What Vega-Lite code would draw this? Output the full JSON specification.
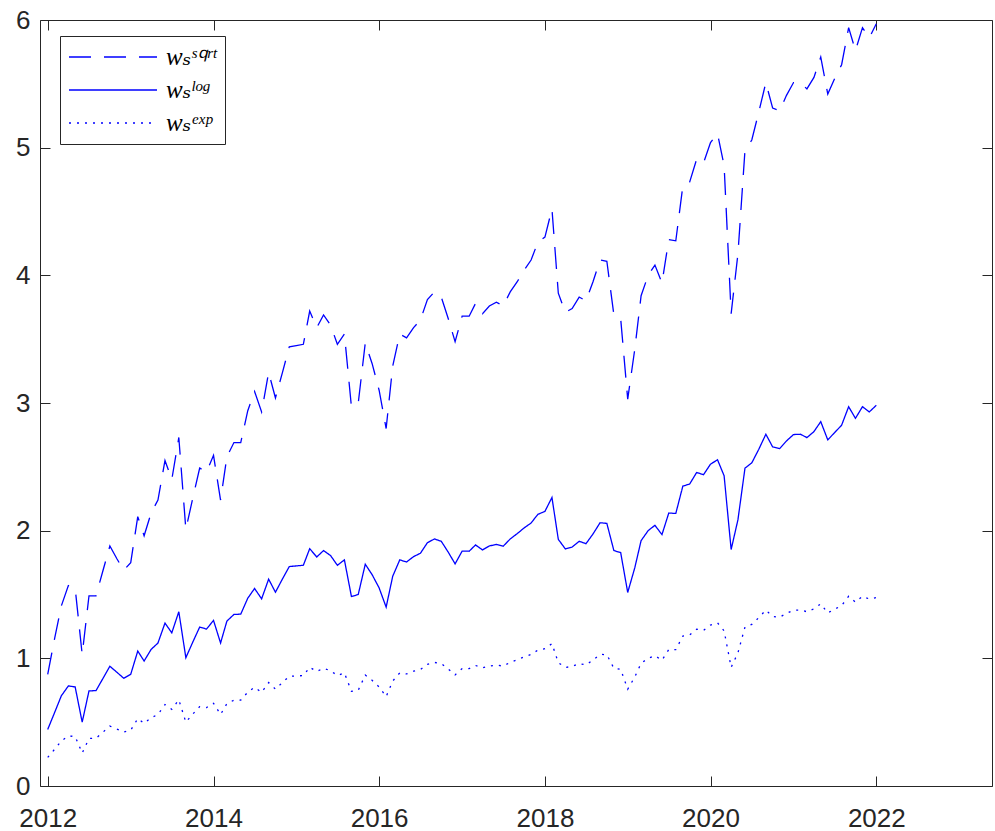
{
  "$schema": "https://vega.github.io/schema/vega-lite/v6.json",
  "width": 952,
  "height": 766,
  "autosize": "none",
  "padding": {"left": 40, "top": 20, "right": 3, "bottom": 45},
  "background": "white",
  "config": {
    "view": {"stroke": null},
    "axis": {
      "domainColor": "#262626",
      "tickColor": "#262626",
      "labelColor": "#262626",
      "labelFont": "Liberation Sans",
      "labelFontSize": 26,
      "grid": false,
      "domainWidth": 1,
      "tickWidth": 1
    }
  },
  "data": {
    "values": [
      {"date": "2012-01-01", "sqrt": 0.875, "log": 0.443, "exp": 0.224},
      {"date": "2012-02-01", "sqrt": 1.16, "log": 0.578, "exp": 0.289},
      {"date": "2012-03-01", "sqrt": 1.41, "log": 0.706, "exp": 0.353},
      {"date": "2012-04-01", "sqrt": 1.57, "log": 0.784, "exp": 0.392},
      {"date": "2012-05-01", "sqrt": 1.55, "log": 0.776, "exp": 0.388},
      {"date": "2012-06-01", "sqrt": 1.03, "log": 0.5, "exp": 0.258},
      {"date": "2012-07-01", "sqrt": 1.49, "log": 0.745, "exp": 0.372},
      {"date": "2012-08-01", "sqrt": 1.49, "log": 0.747, "exp": 0.374},
      {"date": "2012-09-01", "sqrt": 1.69, "log": 0.844, "exp": 0.422},
      {"date": "2012-10-01", "sqrt": 1.88, "log": 0.938, "exp": 0.469},
      {"date": "2012-11-01", "sqrt": 1.78, "log": 0.891, "exp": 0.446},
      {"date": "2012-12-01", "sqrt": 1.69, "log": 0.844, "exp": 0.422},
      {"date": "2013-01-01", "sqrt": 1.75, "log": 0.875, "exp": 0.437},
      {"date": "2013-02-01", "sqrt": 2.11, "log": 1.057, "exp": 0.528},
      {"date": "2013-03-01", "sqrt": 1.96, "log": 0.979, "exp": 0.49},
      {"date": "2013-04-01", "sqrt": 2.14, "log": 1.07, "exp": 0.535},
      {"date": "2013-05-01", "sqrt": 2.24, "log": 1.12, "exp": 0.56},
      {"date": "2013-06-01", "sqrt": 2.55, "log": 1.276, "exp": 0.638},
      {"date": "2013-07-01", "sqrt": 2.4, "log": 1.2, "exp": 0.6},
      {"date": "2013-08-01", "sqrt": 2.73, "log": 1.365, "exp": 0.675},
      {"date": "2013-09-01", "sqrt": 2.01, "log": 1.005, "exp": 0.5},
      {"date": "2013-10-01", "sqrt": 2.25, "log": 1.125, "exp": 0.562},
      {"date": "2013-11-01", "sqrt": 2.49, "log": 1.245, "exp": 0.622},
      {"date": "2013-12-01", "sqrt": 2.46, "log": 1.229, "exp": 0.614},
      {"date": "2014-01-01", "sqrt": 2.59, "log": 1.297, "exp": 0.648},
      {"date": "2014-02-01", "sqrt": 2.24, "log": 1.12, "exp": 0.56},
      {"date": "2014-03-01", "sqrt": 2.58, "log": 1.292, "exp": 0.646},
      {"date": "2014-04-01", "sqrt": 2.69, "log": 1.344, "exp": 0.672},
      {"date": "2014-05-01", "sqrt": 2.69, "log": 1.346, "exp": 0.673},
      {"date": "2014-06-01", "sqrt": 2.94, "log": 1.471, "exp": 0.735},
      {"date": "2014-07-01", "sqrt": 3.09, "log": 1.547, "exp": 0.773},
      {"date": "2014-08-01", "sqrt": 2.93, "log": 1.466, "exp": 0.733},
      {"date": "2014-09-01", "sqrt": 3.24, "log": 1.62, "exp": 0.81},
      {"date": "2014-10-01", "sqrt": 3.04, "log": 1.518, "exp": 0.759},
      {"date": "2014-11-01", "sqrt": 3.24, "log": 1.622, "exp": 0.811},
      {"date": "2014-12-01", "sqrt": 3.44, "log": 1.719, "exp": 0.86},
      {"date": "2015-01-01", "sqrt": 3.45, "log": 1.724, "exp": 0.862},
      {"date": "2015-02-01", "sqrt": 3.46, "log": 1.729, "exp": 0.865},
      {"date": "2015-03-01", "sqrt": 3.72, "log": 1.859, "exp": 0.93},
      {"date": "2015-04-01", "sqrt": 3.59, "log": 1.794, "exp": 0.897},
      {"date": "2015-05-01", "sqrt": 3.69, "log": 1.844, "exp": 0.922},
      {"date": "2015-06-01", "sqrt": 3.61, "log": 1.805, "exp": 0.903},
      {"date": "2015-07-01", "sqrt": 3.46, "log": 1.729, "exp": 0.865},
      {"date": "2015-08-01", "sqrt": 3.54, "log": 1.771, "exp": 0.886},
      {"date": "2015-09-01", "sqrt": 2.97, "log": 1.484, "exp": 0.742},
      {"date": "2015-10-01", "sqrt": 3.0, "log": 1.5, "exp": 0.75},
      {"date": "2015-11-01", "sqrt": 3.47, "log": 1.737, "exp": 0.869},
      {"date": "2015-12-01", "sqrt": 3.31, "log": 1.656, "exp": 0.828},
      {"date": "2016-01-01", "sqrt": 3.1, "log": 1.552, "exp": 0.776},
      {"date": "2016-02-01", "sqrt": 2.8, "log": 1.401, "exp": 0.7},
      {"date": "2016-03-01", "sqrt": 3.29, "log": 1.643, "exp": 0.822},
      {"date": "2016-04-01", "sqrt": 3.54, "log": 1.771, "exp": 0.886},
      {"date": "2016-05-01", "sqrt": 3.51, "log": 1.755, "exp": 0.878},
      {"date": "2016-06-01", "sqrt": 3.59, "log": 1.797, "exp": 0.899},
      {"date": "2016-07-01", "sqrt": 3.65, "log": 1.823, "exp": 0.912},
      {"date": "2016-08-01", "sqrt": 3.81, "log": 1.906, "exp": 0.953},
      {"date": "2016-09-01", "sqrt": 3.87, "log": 1.935, "exp": 0.968},
      {"date": "2016-10-01", "sqrt": 3.83, "log": 1.917, "exp": 0.959},
      {"date": "2016-11-01", "sqrt": 3.66, "log": 1.831, "exp": 0.916},
      {"date": "2016-12-01", "sqrt": 3.48, "log": 1.74, "exp": 0.87},
      {"date": "2017-01-01", "sqrt": 3.68, "log": 1.84, "exp": 0.92},
      {"date": "2017-02-01", "sqrt": 3.68, "log": 1.839, "exp": 0.92},
      {"date": "2017-03-01", "sqrt": 3.78, "log": 1.888, "exp": 0.944},
      {"date": "2017-04-01", "sqrt": 3.7, "log": 1.849, "exp": 0.925},
      {"date": "2017-05-01", "sqrt": 3.76, "log": 1.88, "exp": 0.94},
      {"date": "2017-06-01", "sqrt": 3.79, "log": 1.893, "exp": 0.947},
      {"date": "2017-07-01", "sqrt": 3.76, "log": 1.878, "exp": 0.939},
      {"date": "2017-08-01", "sqrt": 3.87, "log": 1.935, "exp": 0.968},
      {"date": "2017-09-01", "sqrt": 3.95, "log": 1.977, "exp": 0.989},
      {"date": "2017-10-01", "sqrt": 4.04, "log": 2.021, "exp": 1.011},
      {"date": "2017-11-01", "sqrt": 4.12, "log": 2.06, "exp": 1.03},
      {"date": "2017-12-01", "sqrt": 4.26, "log": 2.128, "exp": 1.064},
      {"date": "2018-01-01", "sqrt": 4.3, "log": 2.151, "exp": 1.076},
      {"date": "2018-02-01", "sqrt": 4.52, "log": 2.26, "exp": 1.115},
      {"date": "2018-03-01", "sqrt": 3.86, "log": 1.932, "exp": 0.966},
      {"date": "2018-04-01", "sqrt": 3.71, "log": 1.857, "exp": 0.929},
      {"date": "2018-05-01", "sqrt": 3.74, "log": 1.872, "exp": 0.936},
      {"date": "2018-06-01", "sqrt": 3.83, "log": 1.917, "exp": 0.959},
      {"date": "2018-07-01", "sqrt": 3.8, "log": 1.898, "exp": 0.949},
      {"date": "2018-08-01", "sqrt": 3.95, "log": 1.974, "exp": 0.987},
      {"date": "2018-09-01", "sqrt": 4.12, "log": 2.062, "exp": 1.031},
      {"date": "2018-10-01", "sqrt": 4.11, "log": 2.057, "exp": 1.029},
      {"date": "2018-11-01", "sqrt": 3.69, "log": 1.844, "exp": 0.922},
      {"date": "2018-12-01", "sqrt": 3.66, "log": 1.828, "exp": 0.914},
      {"date": "2019-01-01", "sqrt": 3.03, "log": 1.516, "exp": 0.758},
      {"date": "2019-02-01", "sqrt": 3.42, "log": 1.708, "exp": 0.854},
      {"date": "2019-03-01", "sqrt": 3.84, "log": 1.922, "exp": 0.961},
      {"date": "2019-04-01", "sqrt": 4.0, "log": 2.0, "exp": 1.0},
      {"date": "2019-05-01", "sqrt": 4.08, "log": 2.042, "exp": 1.021},
      {"date": "2019-06-01", "sqrt": 3.94, "log": 1.969, "exp": 0.985},
      {"date": "2019-07-01", "sqrt": 4.28, "log": 2.138, "exp": 1.069},
      {"date": "2019-08-01", "sqrt": 4.27, "log": 2.135, "exp": 1.068},
      {"date": "2019-09-01", "sqrt": 4.7, "log": 2.349, "exp": 1.175},
      {"date": "2019-10-01", "sqrt": 4.73, "log": 2.365, "exp": 1.183},
      {"date": "2019-11-01", "sqrt": 4.91, "log": 2.456, "exp": 1.228},
      {"date": "2019-12-01", "sqrt": 4.88, "log": 2.438, "exp": 1.219},
      {"date": "2020-01-01", "sqrt": 5.04, "log": 2.521, "exp": 1.261},
      {"date": "2020-02-01", "sqrt": 5.11, "log": 2.555, "exp": 1.278},
      {"date": "2020-03-01", "sqrt": 4.86, "log": 2.43, "exp": 1.215},
      {"date": "2020-04-01", "sqrt": 3.7, "log": 1.852, "exp": 0.93},
      {"date": "2020-05-01", "sqrt": 4.17, "log": 2.086, "exp": 1.043},
      {"date": "2020-06-01", "sqrt": 4.98, "log": 2.49, "exp": 1.245},
      {"date": "2020-07-01", "sqrt": 5.06, "log": 2.531, "exp": 1.266},
      {"date": "2020-08-01", "sqrt": 5.28, "log": 2.638, "exp": 1.319},
      {"date": "2020-09-01", "sqrt": 5.51, "log": 2.755, "exp": 1.378},
      {"date": "2020-10-01", "sqrt": 5.31, "log": 2.656, "exp": 1.328},
      {"date": "2020-11-01", "sqrt": 5.29, "log": 2.643, "exp": 1.322},
      {"date": "2020-12-01", "sqrt": 5.41, "log": 2.703, "exp": 1.352},
      {"date": "2021-01-01", "sqrt": 5.51, "log": 2.753, "exp": 1.377},
      {"date": "2021-02-01", "sqrt": 5.51, "log": 2.755, "exp": 1.378},
      {"date": "2021-03-01", "sqrt": 5.46, "log": 2.729, "exp": 1.365},
      {"date": "2021-04-01", "sqrt": 5.55, "log": 2.776, "exp": 1.388},
      {"date": "2021-05-01", "sqrt": 5.71, "log": 2.854, "exp": 1.427},
      {"date": "2021-06-01", "sqrt": 5.42, "log": 2.711, "exp": 1.356},
      {"date": "2021-07-01", "sqrt": 5.54, "log": 2.768, "exp": 1.384},
      {"date": "2021-08-01", "sqrt": 5.65, "log": 2.826, "exp": 1.413},
      {"date": "2021-09-01", "sqrt": 5.94, "log": 2.971, "exp": 1.486},
      {"date": "2021-10-01", "sqrt": 5.76, "log": 2.88, "exp": 1.44},
      {"date": "2021-11-01", "sqrt": 5.94, "log": 2.971, "exp": 1.486},
      {"date": "2021-12-01", "sqrt": 5.86, "log": 2.93, "exp": 1.465},
      {"date": "2022-01-01", "sqrt": 5.97, "log": 2.982, "exp": 1.476}
    ]
  },
  "transform": [{"fold": ["sqrt", "log", "exp"], "as": ["series", "value"]}],
  "resolve": {"axis": {"x": "independent", "y": "independent"}},
  "layer": [
    {
      "mark": {"type": "line", "color": "#0000ff", "strokeWidth": 1.3, "strokeCap": "butt"},
      "encoding": {
        "x": {
          "field": "date",
          "type": "temporal",
          "scale": {
            "type": "utc",
            "domain": [
              {"year": 2011, "month": 11, "date": 28, "utc": true},
              {"year": 2023, "month": 5, "date": 26, "utc": true}
            ]
          },
          "axis": {
            "orient": "bottom",
            "title": null,
            "format": "%Y",
            "ticks": false,
            "values": [
              {"year": 2012, "utc": true},
              {"year": 2014, "utc": true},
              {"year": 2016, "utc": true},
              {"year": 2018, "utc": true},
              {"year": 2020, "utc": true},
              {"year": 2022, "utc": true}
            ],
            "labelFlush": false,
            "labelOverlap": false,
            "labelPadding": 19
          }
        },
        "y": {
          "field": "value",
          "type": "quantitative",
          "scale": {"domain": [0, 6], "nice": false, "zero": true},
          "axis": {
            "orient": "left",
            "title": null,
            "ticks": false,
            "values": [0, 1, 2, 3, 4, 5, 6],
            "labelFlush": false,
            "labelOverlap": false,
            "labelPadding": 10
          }
        },
        "strokeDash": {
          "field": "series",
          "type": "nominal",
          "scale": {"domain": ["sqrt", "log", "exp"], "range": [[22, 13], [1, 0], [2, 6]]},
          "legend": {
            "orient": "none",
            "legendX": 20,
            "legendY": 16,
            "title": null,
            "symbolType": "stroke",
            "symbolSize": 7744,
            "symbolStrokeWidth": 1.3,
            "symbolStrokeColor": "#0000ff",
            "clipHeight": 26,
            "rowPadding": 7,
            "padding": 8,
            "labelOffset": 8,
            "labelFont": "Liberation Serif, DejaVu Serif",
            "labelFontStyle": "italic",
            "labelFontSize": 25,
            "labelColor": "#000000",
            "labelLimit": 300,
            "strokeColor": "#262626",
            "fillColor": "#ffffff",
            "cornerRadius": 0,
            "labelExpr": "datum.value == 'sqrt' ? 'wₛˢ𐞥ʳᵗ' : (datum.value == 'log' ? 'wₛˡᵒᵍ' : 'wₛᵉˣᵖ')"
          }
        }
      }
    },
    {
      "mark": {"type": "line", "strokeOpacity": 0},
      "encoding": {
        "x": {
          "field": "date",
          "type": "temporal",
          "axis": {
            "orient": "top",
            "offset": -766,
            "title": null,
            "labels": false,
            "domain": false,
            "ticks": true,
            "tickSize": 10,
            "values": [
              {"year": 2012, "utc": true},
              {"year": 2014, "utc": true},
              {"year": 2016, "utc": true},
              {"year": 2018, "utc": true},
              {"year": 2020, "utc": true},
              {"year": 2022, "utc": true}
            ]
          }
        },
        "y": {
          "field": "value",
          "type": "quantitative",
          "axis": {
            "orient": "right",
            "offset": -952,
            "title": null,
            "labels": false,
            "domain": false,
            "ticks": true,
            "tickSize": 10,
            "values": [0, 1, 2, 3, 4, 5, 6]
          }
        },
        "detail": {"field": "series"}
      }
    },
    {
      "mark": {"type": "line", "strokeOpacity": 0},
      "encoding": {
        "x": {
          "field": "date",
          "type": "temporal",
          "axis": {
            "orient": "bottom",
            "offset": -766,
            "title": null,
            "labels": false,
            "domain": true,
            "ticks": true,
            "tickSize": 10,
            "values": [
              {"year": 2012, "utc": true},
              {"year": 2014, "utc": true},
              {"year": 2016, "utc": true},
              {"year": 2018, "utc": true},
              {"year": 2020, "utc": true},
              {"year": 2022, "utc": true}
            ]
          }
        },
        "y": {
          "field": "value",
          "type": "quantitative",
          "axis": {
            "orient": "left",
            "offset": -952,
            "title": null,
            "labels": false,
            "domain": true,
            "ticks": true,
            "tickSize": 10,
            "values": [0, 1, 2, 3, 4, 5, 6]
          }
        },
        "detail": {"field": "series"}
      }
    }
  ]
}
